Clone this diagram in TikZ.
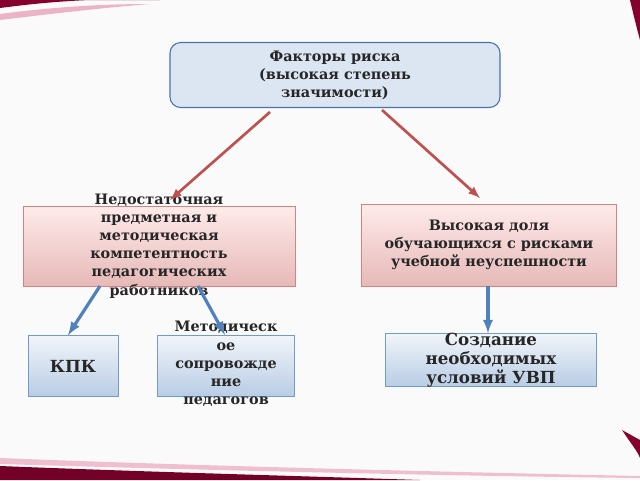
\documentclass[tikz,border=0pt]{standalone}
\usepackage{fontspec}
\setmainfont{DejaVu Serif}
\definecolor{accb}{HTML}{4F81BD}
\definecolor{accr}{HTML}{C0504D}
\begin{document}
\begin{tikzpicture}[x=0.75pt,y=-0.75pt,
  txt/.style={align=center,font=\bfseries\fontsize{10.8}{13.6}\selectfont,text=black!85},
  redbox/.style={draw=accr!70,top color=red!8,bottom color=accr!40},
  bluebox/.style={draw=accb!80,top color=accb!8,bottom color=accb!40},
  redarr/.style={draw=accr,line width=2pt,-latex},
  bluearr/.style={draw=accb,line width=2.4pt,-latex}]
\useasboundingbox (0,0) rectangle (640,480);
\fill[white!96!gray] (0,0) rectangle (640,480);
% decorative strokes
\fill[purple!70!black] (0,8) .. controls (60,0) and (110,-2) .. (160,0) -- (0,0) -- cycle;
\fill[purple!30] (0,14) .. controls (60,6) and (110,4) .. (150,4) .. controls (100,8) and (50,14) .. (0,20) -- cycle;
\fill[purple!70!black] (630,0) -- (640,0) -- (640,40) .. controls (636,25) .. (630,0);
\fill[purple!60!black] (0,466) .. controls (150,472) and (300,476) .. (420,480) -- (0,480) -- cycle;
\fill[purple!25] (0,458) .. controls (200,466) and (450,472) .. (640,476) -- (640,478) .. controls (450,476) and (200,470) .. (0,464) -- cycle;
\fill[purple!70!black] (622,430) .. controls (632,445) and (638,452) .. (640,458) -- (640,440) -- cycle;
% boxes
\node[draw=accb!90!black,fill=accb!20,rounded corners=8pt,line width=0.8pt,minimum width=330*0.75pt,minimum height=65*0.75pt] (top) at (335,75) {};
\node[txt] at (335,75) {Факторы риска\\(высокая степень\\значимости)};
\node[redbox,minimum width=272*0.75pt,minimum height=80*0.75pt] (l) at (159,246) {};
\node[txt] at (159,246) {Недостаточная\\предметная и\\методическая\\компетентность\\педагогических\\работников};
\node[redbox,minimum width=255*0.75pt,minimum height=82*0.75pt] (r) at (489,245) {};
\node[txt] at (489,245) {Высокая доля\\обучающихся с рисками\\учебной неуспешности};
\node[bluebox,minimum width=90*0.75pt,minimum height=61*0.75pt] (k) at (73,366) {};
\node[txt,font=\bfseries\fontsize{12.5}{14}\selectfont] at (73,366) {КПК};
\node[bluebox,minimum width=137*0.75pt,minimum height=61*0.75pt] (m) at (226,366) {};
\node[txt] at (226,364) {Методическ\\ое\\сопровожде\\ние\\педагогов};
\node[bluebox,minimum width=211*0.75pt,minimum height=53*0.75pt] (c) at (491,360) {};
\node[txt,font=\bfseries\fontsize{12.5}{14.5}\selectfont] at (491,360) {Создание\\необходимых\\условий УВП};
% arrows
\coordinate (t1) at (270,112); \coordinate (t2) at (382,110);
\draw[redarr] (t1) -- (170,200);
\draw[redarr] (t2) -- (480,198);
\draw[bluearr] (100,286) -- (k.north -| 68,0);
\draw[bluearr] (198,286) -- (225,335);
\draw[bluearr] (r.south -| 488,0) -- (c.north -| 488,0);
\end{tikzpicture}
\end{document}
